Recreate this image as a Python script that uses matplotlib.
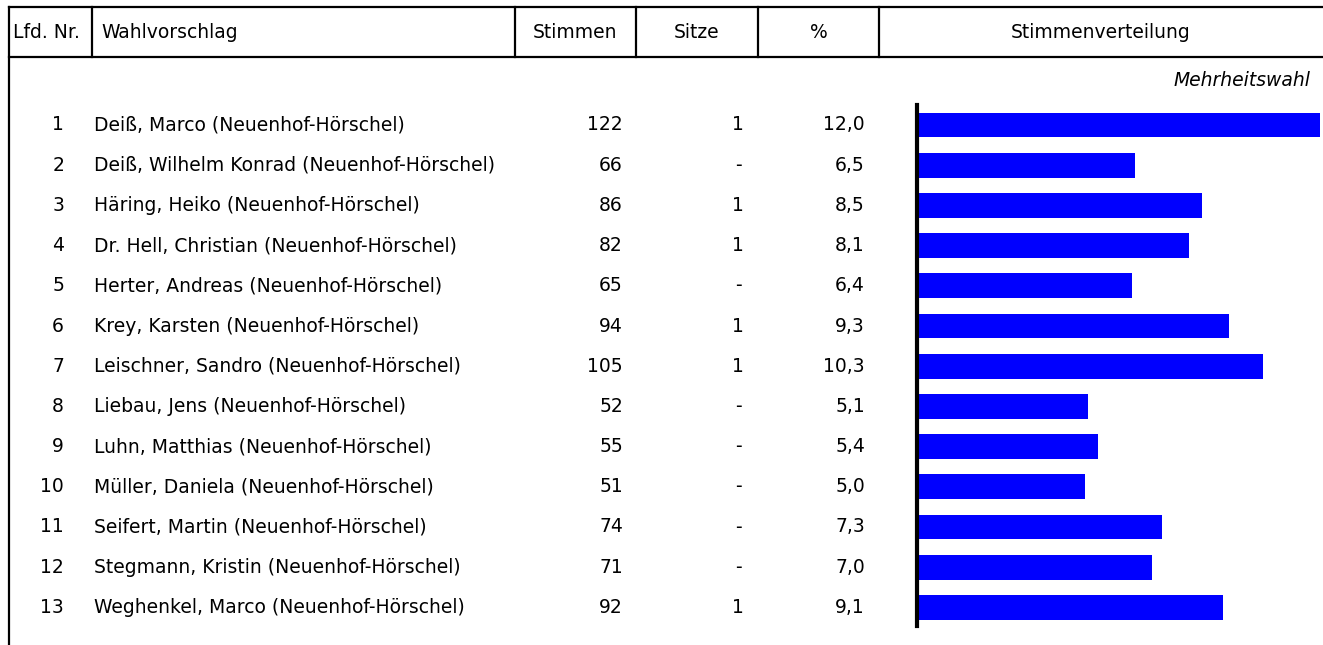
import matplotlib
matplotlib.use("Agg")
import matplotlib.pyplot as plt

### Wahlergebnis Neuenhof-Hörschel (Mehrheitswahl)
nummer = list(range(1, 14))
namen = [
    "Deiß, Marco (Neuenhof-Hörschel)",
    "Deiß, Wilhelm Konrad (Neuenhof-Hörschel)",
    "Häring, Heiko (Neuenhof-Hörschel)",
    "Dr. Hell, Christian (Neuenhof-Hörschel)",
    "Herter, Andreas (Neuenhof-Hörschel)",
    "Krey, Karsten (Neuenhof-Hörschel)",
    "Leischner, Sandro (Neuenhof-Hörschel)",
    "Liebau, Jens (Neuenhof-Hörschel)",
    "Luhn, Matthias (Neuenhof-Hörschel)",
    "Müller, Daniela (Neuenhof-Hörschel)",
    "Seifert, Martin (Neuenhof-Hörschel)",
    "Stegmann, Kristin (Neuenhof-Hörschel)",
    "Weghenkel, Marco (Neuenhof-Hörschel)",
]
stimmen = [122, 66, 86, 82, 65, 94, 105, 52, 55, 51, 74, 71, 92]
sitze = ["1", "-", "1", "1", "-", "1", "1", "-", "-", "-", "-", "-", "1"]
prozent = [12.0, 6.5, 8.5, 8.1, 6.4, 9.3, 10.3, 5.1, 5.4, 5.0, 7.3, 7.0, 9.1]
kopf = ["Lfd. Nr.", "Wahlvorschlag", "Stimmen", "Sitze", "%", "Stimmenverteilung"]

W, H = 1323, 645
FS = 13.5
plt.rcParams['font.family'] = ['DejaVu Sans']

fig = plt.figure(figsize=(W / 100, H / 100), dpi=100)

# layout in pixels
TOP, HEAD_BOT = 7, 57
LEFT = 9
SEPS = [92, 515, 636, 758, 879]
ROW0, STEP = 125, 40.2
BAR_TOP, BAR_BOT = 105, 626
BAR_L, BAR_R = 917, 1320

ax0 = fig.add_axes([0, 0, 1, 1])
ax0.set_xlim(0, W)
ax0.set_ylim(H, 0)
ax0.axis('off')

lw = 1.6
ax0.plot([LEFT, W], [TOP, TOP], color='black', lw=lw)
ax0.plot([LEFT, W], [HEAD_BOT, HEAD_BOT], color='black', lw=lw)
ax0.plot([LEFT, LEFT], [TOP, H], color='black', lw=lw)
for s in SEPS:
    ax0.plot([s, s], [TOP, HEAD_BOT], color='black', lw=lw)

hy = (TOP + HEAD_BOT) / 2
ax0.text(13, hy, kopf[0], ha='left', va='center', fontsize=FS)
ax0.text(SEPS[0] + 9, hy, kopf[1], ha='left', va='center', fontsize=FS)
bounds = SEPS + [W]
for i in range(2, 6):
    ax0.text((bounds[i - 1] + bounds[i]) / 2, hy, kopf[i], ha='center', va='center', fontsize=FS)

ax0.text(1311, 80, "Mehrheitswahl", ha='right', va='center', fontsize=FS, style='italic')

for i in range(len(namen)):
    y = ROW0 + i * STEP
    ax0.text(64, y, str(nummer[i]), ha='right', va='center', fontsize=FS)
    ax0.text(94, y, namen[i], ha='left', va='center', fontsize=FS)
    ax0.text(623, y, str(stimmen[i]), ha='right', va='center', fontsize=FS)
    ax0.text(738, y, sitze[i], ha='center', va='center', fontsize=FS)
    ax0.text(865, y, f"{prozent[i]:.1f}".replace('.', ','), ha='right', va='center', fontsize=FS)

# bar chart
ax = fig.add_axes([BAR_L / W, 1 - BAR_BOT / H, (BAR_R - BAR_L) / W, (BAR_BOT - BAR_TOP) / H])
ax.barh(range(len(prozent)), prozent, height=0.62, color='#0000ff')
ax.set_xlim(0, max(prozent))
ax.set_ylim((BAR_BOT - ROW0) / STEP, (BAR_TOP - ROW0) / STEP)
for side in ['top', 'right', 'bottom']:
    ax.spines[side].set_visible(False)
ax.spines['left'].set_linewidth(3)
ax.spines['left'].set_zorder(5)
ax.set_xticks([])
ax.set_yticks([])
ax.patch.set_alpha(0)

plt.savefig('out.png', dpi=100)
